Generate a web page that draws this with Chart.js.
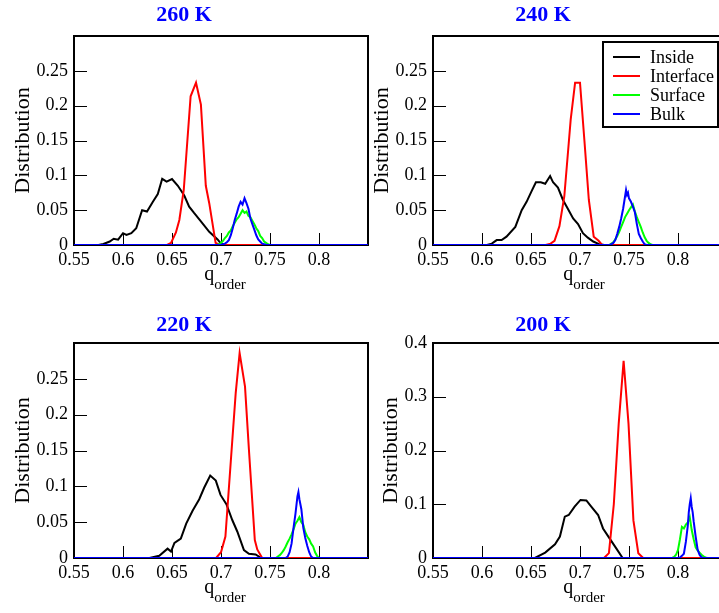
<!DOCTYPE html>
<html>
<head>
<meta charset="utf-8">
<title>q_order distributions</title>
<script src="https://cdn.jsdelivr.net/npm/chart.js@4.4.1/dist/chart.umd.min.js"></script>
<style>
    html, body { margin: 0; padding: 0; background: #fff; }
    body { width: 719px; height: 613px; overflow: hidden; position: relative; }
    canvas { position: absolute; }
</style>
</head>
<body>
<canvas id="c260" width="442" height="300" style="left:0;top:0"></canvas>
<canvas id="c240" width="442" height="300" style="left:359px;top:0"></canvas>
<canvas id="c220" width="442" height="306" style="left:0;top:307px"></canvas>
<canvas id="c200" width="442" height="306" style="left:359px;top:307px"></canvas>
<script>
// series names and colours
const seriesNames = ["Inside", "Interface", "Surface", "Bulk"];
const seriesColors = ["#000000", "#ff0000", "#00ff00", "#0000ff"];

// 260 K
const x260Inside = [0.55, 0.575, 0.58, 0.5865, 0.5905, 0.595, 0.60, 0.6035, 0.6085, 0.6135, 0.6195, 0.6245, 0.6305, 0.6355, 0.640, 0.6445, 0.650, 0.656, 0.6625, 0.6675, 0.6725, 0.6795, 0.688, 0.6965, 0.700, 0.705, 0.85];
const y260Inside = [0, 0, 0.0014, 0.005, 0.009, 0.0077, 0.017, 0.0144, 0.017, 0.024, 0.050, 0.048, 0.062, 0.073, 0.095, 0.091, 0.0946, 0.085, 0.071, 0.055, 0.046, 0.034, 0.019, 0.008, 0.002, 0, 0];
const x260Interface = [0.55, 0.645, 0.649, 0.654, 0.6575, 0.662, 0.669, 0.6745, 0.6795, 0.6845, 0.688, 0.6945, 0.699, 0.85];
const y260Interface = [0, 0, 0.003, 0.018, 0.036, 0.079, 0.2135, 0.233, 0.2015, 0.085, 0.06, 0.003, 0, 0];
const x260Surface = [0.55, 0.696, 0.698, 0.700, 0.702, 0.704, 0.706, 0.708, 0.710, 0.712, 0.714, 0.716, 0.718, 0.720, 0.722, 0.724, 0.726, 0.728, 0.730, 0.732, 0.734, 0.736, 0.738, 0.740, 0.742, 0.744, 0.746, 0.748, 0.750, 0.85];
const y260Surface = [0, 0, 0.001, 0.003, 0.006, 0.010, 0.013, 0.018, 0.021, 0.027, 0.032, 0.037, 0.040, 0.045, 0.050, 0.046, 0.048, 0.042, 0.040, 0.035, 0.030, 0.024, 0.020, 0.013, 0.010, 0.005, 0.003, 0.001, 0, 0];
const x260Bulk = [0.55, 0.700, 0.702, 0.704, 0.706, 0.708, 0.710, 0.712, 0.714, 0.716, 0.718, 0.720, 0.722, 0.724, 0.726, 0.728, 0.730, 0.732, 0.734, 0.736, 0.738, 0.740, 0.742, 0.744, 0.746, 0.85];
const y260Bulk = [0, 0, 0.001, 0.002, 0.004, 0.007, 0.014, 0.024, 0.036, 0.045, 0.055, 0.062, 0.058, 0.067, 0.060, 0.052, 0.038, 0.030, 0.022, 0.014, 0.008, 0.005, 0.002, 0.001, 0, 0];

// 240 K
const x240Inside = [0.55, 0.605, 0.610, 0.615, 0.620, 0.625, 0.634, 0.6405, 0.6455, 0.6505, 0.655, 0.660, 0.6645, 0.6695, 0.6725, 0.6775, 0.6825, 0.688, 0.693, 0.698, 0.703, 0.708, 0.7135, 0.720, 0.725, 0.85];
const y240Inside = [0, 0, 0.002, 0.007, 0.007, 0.012, 0.026, 0.050, 0.062, 0.077, 0.090, 0.090, 0.088, 0.099, 0.090, 0.0825, 0.065, 0.051, 0.038, 0.030, 0.017, 0.0105, 0.005, 0.001, 0, 0];
const x240Interface = [0.55, 0.665, 0.670, 0.674, 0.679, 0.684, 0.6885, 0.6905, 0.695, 0.700, 0.7045, 0.709, 0.714, 0.719, 0.7225, 0.85];
const y240Interface = [0, 0, 0.002, 0.006, 0.027, 0.07, 0.146, 0.18, 0.233, 0.233, 0.15, 0.065, 0.012, 0.006, 0, 0];
const x240Surface = [0.55, 0.730, 0.732, 0.734, 0.736, 0.738, 0.740, 0.742, 0.744, 0.746, 0.748, 0.750, 0.752, 0.754, 0.756, 0.758, 0.760, 0.762, 0.764, 0.766, 0.768, 0.770, 0.772, 0.774, 0.85];
const y240Surface = [0, 0, 0.002, 0.004, 0.008, 0.013, 0.019, 0.026, 0.033, 0.040, 0.045, 0.050, 0.054, 0.058, 0.048, 0.040, 0.033, 0.026, 0.018, 0.011, 0.006, 0.003, 0.001, 0, 0];
const x240Bulk = [0.55, 0.730, 0.732, 0.734, 0.736, 0.738, 0.740, 0.742, 0.744, 0.746, 0.747, 0.748, 0.749, 0.750, 0.752, 0.754, 0.756, 0.758, 0.760, 0.762, 0.764, 0.766, 0.768, 0.85];
const y240Bulk = [0, 0, 0.001, 0.003, 0.007, 0.016, 0.026, 0.038, 0.052, 0.070, 0.079, 0.072, 0.075, 0.067, 0.062, 0.055, 0.047, 0.030, 0.016, 0.010, 0.005, 0.001, 0, 0];

// 220 K
const x220Inside = [0.55, 0.627, 0.637, 0.6455, 0.649, 0.6525, 0.659, 0.6645, 0.671, 0.6778, 0.6828, 0.689, 0.6947, 0.6995, 0.7055, 0.7115, 0.7166, 0.7234, 0.7285, 0.7353, 0.741, 0.85];
const y220Inside = [0, 0, 0.003, 0.013, 0.009, 0.021, 0.027, 0.048, 0.066, 0.082, 0.098, 0.115, 0.108, 0.088, 0.075, 0.053, 0.037, 0.011, 0.006, 0.005, 0, 0];
const x220Interface = [0.55, 0.695, 0.700, 0.7045, 0.710, 0.715, 0.719, 0.7245, 0.7285, 0.7345, 0.737, 0.742, 0.85];
const y220Interface = [0, 0, 0.008, 0.03, 0.135, 0.23, 0.286, 0.239, 0.151, 0.025, 0.012, 0, 0];
const x220Surface = [0.55, 0.756, 0.758, 0.760, 0.762, 0.764, 0.766, 0.768, 0.770, 0.772, 0.774, 0.776, 0.778, 0.780, 0.782, 0.784, 0.786, 0.788, 0.790, 0.792, 0.794, 0.796, 0.798, 0.800, 0.85];
const y220Surface = [0, 0, 0.002, 0.004, 0.007, 0.011, 0.016, 0.022, 0.027, 0.033, 0.040, 0.048, 0.052, 0.057, 0.050, 0.046, 0.036, 0.030, 0.026, 0.020, 0.016, 0.008, 0.003, 0, 0];
const x220Bulk = [0.55, 0.766, 0.768, 0.770, 0.772, 0.774, 0.776, 0.778, 0.779, 0.780, 0.782, 0.784, 0.786, 0.788, 0.790, 0.792, 0.794, 0.85];
const y220Bulk = [0, 0, 0.002, 0.008, 0.020, 0.042, 0.062, 0.086, 0.092, 0.082, 0.068, 0.042, 0.028, 0.017, 0.008, 0.002, 0, 0];

// 200 K
const x200Inside = [0.55, 0.654, 0.6645, 0.6745, 0.6795, 0.6845, 0.6885, 0.6945, 0.7005, 0.7065, 0.7115, 0.7185, 0.7235, 0.730, 0.737, 0.7435, 0.85];
const y200Inside = [0, 0, 0.01, 0.0255, 0.04, 0.077, 0.08, 0.0956, 0.108, 0.107, 0.0956, 0.08, 0.055, 0.037, 0.018, 0, 0];
const x200Interface = [0.55, 0.7245, 0.7295, 0.7345, 0.7395, 0.7445, 0.7495, 0.7545, 0.7595, 0.7645, 0.85];
const y200Interface = [0, 0, 0.009, 0.10, 0.25, 0.367, 0.25, 0.07, 0.009, 0, 0];
const x200Surface = [0.55, 0.794, 0.796, 0.798, 0.800, 0.802, 0.804, 0.806, 0.808, 0.810, 0.812, 0.814, 0.816, 0.818, 0.820, 0.822, 0.824, 0.826, 0.828, 0.830, 0.85];
const y200Surface = [0, 0, 0.002, 0.006, 0.015, 0.035, 0.058, 0.055, 0.062, 0.066, 0.076, 0.052, 0.035, 0.020, 0.014, 0.010, 0.006, 0.003, 0.001, 0, 0];
const x200Bulk = [0.55, 0.800, 0.802, 0.804, 0.806, 0.808, 0.810, 0.811, 0.812, 0.813, 0.814, 0.815, 0.816, 0.818, 0.820, 0.822, 0.824, 0.826, 0.85];
const y200Bulk = [0, 0, 0.001, 0.004, 0.008, 0.030, 0.060, 0.085, 0.100, 0.111, 0.095, 0.085, 0.068, 0.040, 0.016, 0.006, 0.001, 0, 0];

const serif = "'Liberation Serif', 'Times New Roman', serif";

function toPoints(xs, ys) {
    return xs.map((x, i) => ({ x: x, y: ys[i] }));
}

function fmt(v) {
    return String(Math.round(v * 100) / 100);
}

// frame, inward ticks, q_order axis label and the boxed legend
const panelDecor = {
    id: "panelDecor",
    beforeDatasetsDraw(chart) {
        const ctx = chart.ctx;
        const area = chart.chartArea;
        const xs = chart.scales.x;
        const ys = chart.scales.y;
        ctx.save();
        ctx.strokeStyle = "#000";
        ctx.lineWidth = 1;
        ctx.beginPath();
        xs.ticks.forEach((t) => {
            const px = Math.round(xs.getPixelForValue(t.value)) + 0.5;
            ctx.moveTo(px, area.bottom);
            ctx.lineTo(px, area.bottom - 12);
        });
        ys.ticks.forEach((t) => {
            const py = Math.round(ys.getPixelForValue(t.value)) + 0.5;
            ctx.moveTo(area.left, py);
            ctx.lineTo(area.left + 13, py);
        });
        ctx.stroke();
        ctx.lineWidth = 2;
        ctx.strokeRect(area.left, area.top, area.right - area.left, area.bottom - area.top);
        ctx.restore();
    },
    afterDraw(chart, args, opts) {
        const ctx = chart.ctx;
        const area = chart.chartArea;
        ctx.save();
        ctx.fillStyle = "#000";
        ctx.textBaseline = "alphabetic";
        ctx.textAlign = "left";

        // x axis label with subscript
        ctx.font = "20px " + serif;
        const wq = ctx.measureText("q").width;
        ctx.font = "15px " + serif;
        const wo = ctx.measureText("order").width;
        const startX = (area.left + area.right) / 2 + 4 - (wq + wo) / 2;
        ctx.font = "20px " + serif;
        ctx.fillText("q", startX, area.bottom + 35);
        ctx.font = "15px " + serif;
        ctx.fillText("order", startX + wq, area.bottom + 44);

        if (opts.legend) {
            const bx = area.left + 170;
            const by = area.top + 6;
            ctx.fillStyle = "#fff";
            ctx.fillRect(bx, by, 115, 85);
            ctx.strokeStyle = "#000";
            ctx.lineWidth = 2;
            ctx.strokeRect(bx, by, 115, 85);
            ctx.font = "18px " + serif;
            ctx.textBaseline = "middle";
            chart.data.datasets.forEach((ds, i) => {
                const ry = by + 15 + i * 19;
                ctx.strokeStyle = ds.borderColor;
                ctx.beginPath();
                ctx.moveTo(bx + 10, ry);
                ctx.lineTo(bx + 37, ry);
                ctx.stroke();
                ctx.fillStyle = "#000";
                ctx.fillText(ds.label, bx + 47, ry + 1);
            });
        }
        ctx.restore();
    },
};

function buildPanel(canvasId, title, yMax, yStep, xsList, ysList, cfg) {
    const ctx = document.getElementById(canvasId).getContext("2d");
    const datasets = seriesNames.map((name, i) => ({
        label: name,
        data: toPoints(xsList[i], ysList[i]),
        borderColor: seriesColors[i],
        borderWidth: 2,
        pointRadius: 0,
        tension: 0,
        fill: false,
        order: 3 - i,
    }));

    return new Chart(ctx, {
        type: "line",
        data: { datasets: datasets },
        options: {
            responsive: false,
            animation: false,
            events: [],
            layout: { padding: { left: 0, right: 74, top: 0, bottom: 0 } },
            plugins: {
                legend: { display: false },
                tooltip: { enabled: false },
                title: {
                    display: true,
                    text: title,
                    color: "#0000ff",
                    font: { family: serif, size: 22, weight: "bold" },
                    padding: { top: cfg.titleTop, bottom: cfg.titleBottom },
                },
                panelDecor: { legend: cfg.legend },
            },
            scales: {
                x: {
                    type: "linear",
                    min: 0.55,
                    max: 0.85,
                    grid: { display: false, drawTicks: false },
                    border: { display: false },
                    ticks: {
                        stepSize: 0.05,
                        autoSkip: false,
                        maxRotation: 0,
                        padding: 4,
                        color: "#000",
                        font: { family: serif, size: 18 },
                        callback: (v) => (v > 0.849 ? "" : fmt(v)),
                    },
                    afterFit: (scale) => {
                        scale.height = 55;
                    },
                },
                y: {
                    type: "linear",
                    min: 0,
                    max: yMax,
                    grid: { display: false, drawTicks: false },
                    border: { display: false },
                    ticks: {
                        stepSize: yStep,
                        autoSkip: false,
                        padding: 6,
                        color: "#000",
                        font: { family: serif, size: 18 },
                        callback: (v) => (cfg.hideTop && v > yMax - 1e-6 ? "" : fmt(v)),
                    },
                    title: {
                        display: true,
                        text: "Distribution",
                        color: "#000",
                        font: { family: serif, size: 22 },
                        padding: { top: cfg.yTitlePad, bottom: 0 },
                    },
                    afterFit: (scale) => {
                        scale.width = 74;
                    },
                },
            },
        },
        plugins: [panelDecor],
    });
}

buildPanel("c260", "260 K", 0.3, 0.05,
    [x260Inside, x260Interface, x260Surface, x260Bulk],
    [y260Inside, y260Interface, y260Surface, y260Bulk],
    { titleTop: 1.8, titleBottom: 7.8, legend: false, hideTop: true, yTitlePad: 10 });

buildPanel("c240", "240 K", 0.3, 0.05,
    [x240Inside, x240Interface, x240Surface, x240Bulk],
    [y240Inside, y240Interface, y240Surface, y240Bulk],
    { titleTop: 1.8, titleBottom: 7.8, legend: true, hideTop: true, yTitlePad: 10 });

buildPanel("c220", "220 K", 0.3, 0.05,
    [x220Inside, x220Interface, x220Surface, x220Bulk],
    [y220Inside, y220Interface, y220Surface, y220Bulk],
    { titleTop: 4.8, titleBottom: 4.8, legend: false, hideTop: true, yTitlePad: 10 });

buildPanel("c200", "200 K", 0.4, 0.1,
    [x200Inside, x200Interface, x200Surface, x200Bulk],
    [y200Inside, y200Interface, y200Surface, y200Bulk],
    { titleTop: 4.8, titleBottom: 4.8, legend: false, hideTop: false, yTitlePad: 19 });
</script>
</body>
</html>
